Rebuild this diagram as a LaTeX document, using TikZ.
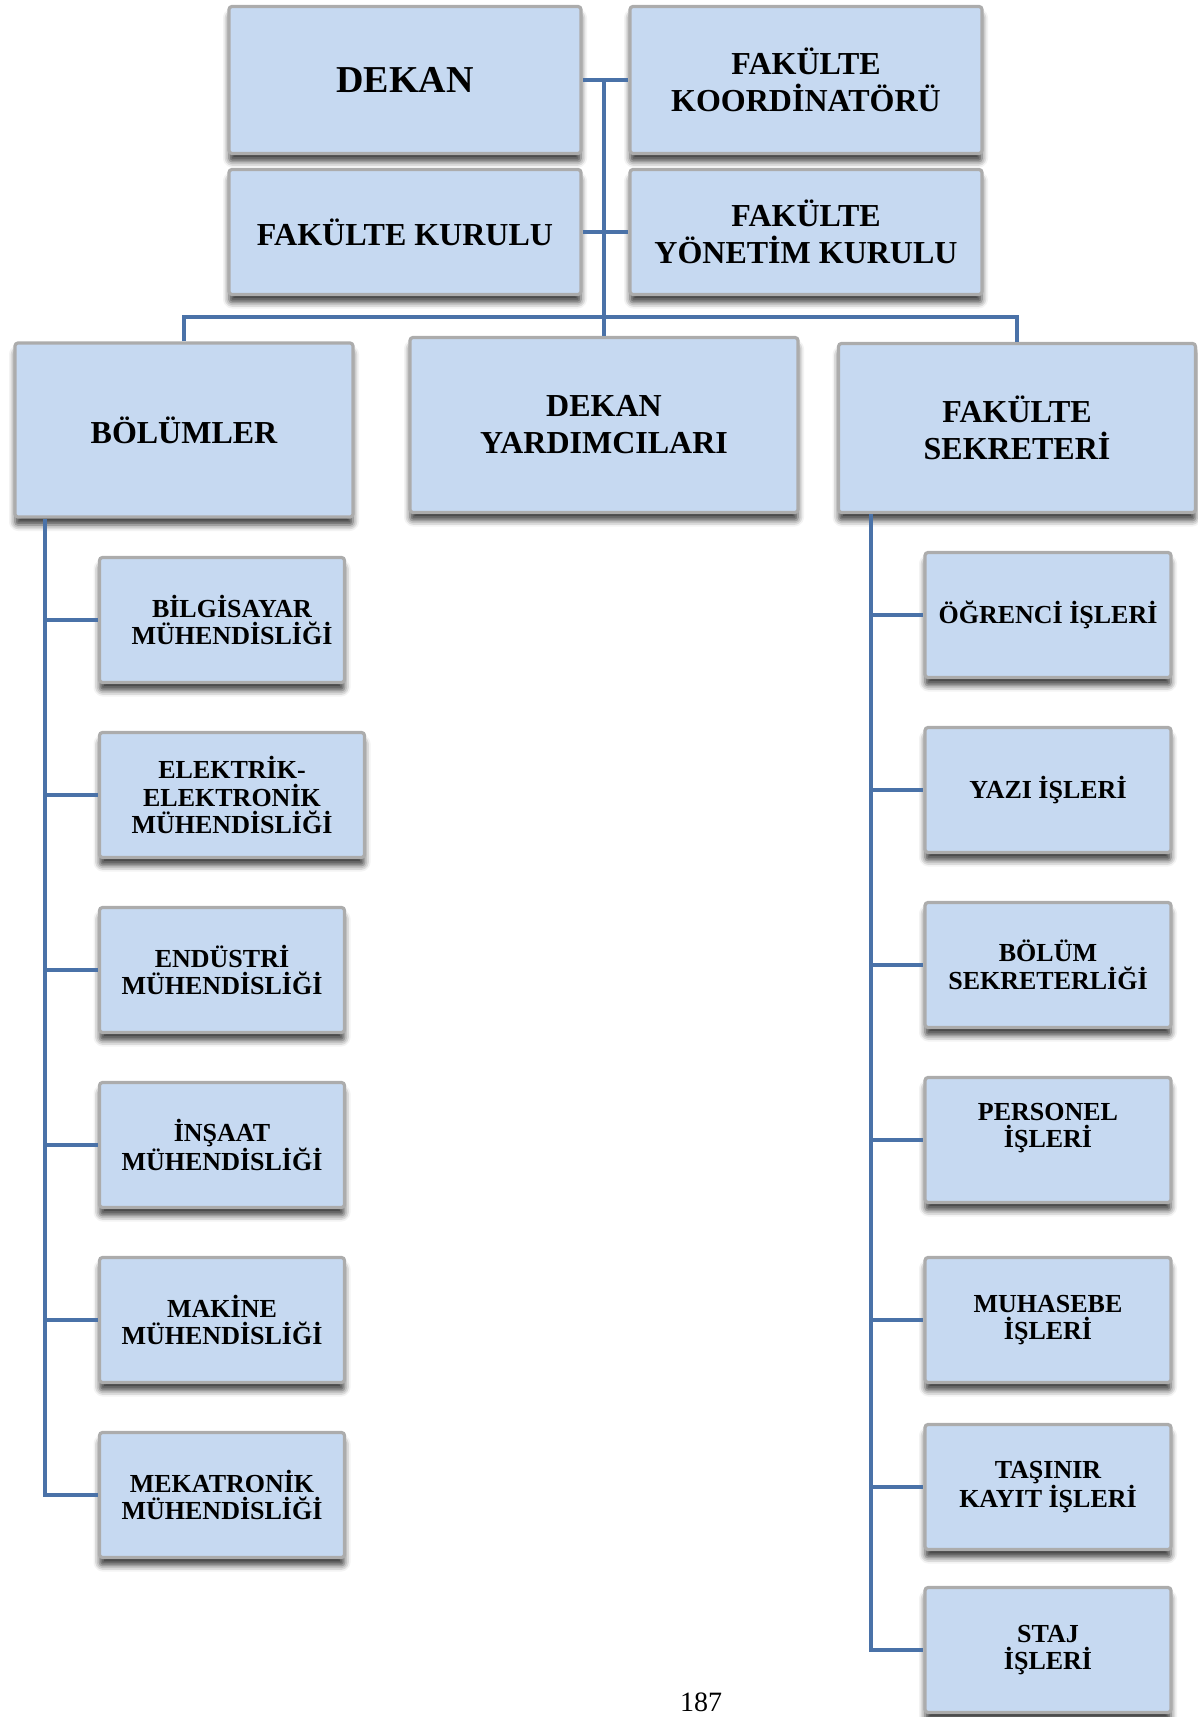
\documentclass[tikz,border=0pt]{standalone}
\usepackage{fontspec}
\setmainfont{Liberation Serif}
\usepackage{xcolor}
\usetikzlibrary{shadows.blur}
\definecolor{boxblue}{HTML}{C6D9F1}
\definecolor{linkblue}{HTML}{4A72A8}
\tikzstyle{orgbox} = [rectangle, draw=gray!65, line width=1.6pt, fill=boxblue, rounded corners=1.5pt, align=center,
  blur shadow={shadow xshift=0pt, shadow yshift=-4pt, shadow blur radius=3pt, shadow opacity=75}]
\tikzstyle{headbox} = [orgbox, font=\fontsize{16}{18.5}\selectfont\bfseries]
\tikzstyle{subbox} = [orgbox, minimum width=122.5pt, minimum height=62.5pt, font=\fontsize{13}{13.8}\selectfont\bfseries]
\tikzstyle{branch} = [draw=linkblue, line width=2pt]

\begin{document}
\begin{tikzpicture}[x=0.5pt,y=-0.5pt,node distance=87.5pt]
  \useasboundingbox (0,0) rectangle (1198,1717);

  % top level
  \node[headbox, minimum width=176pt, minimum height=73.5pt, font=\fontsize{19}{21}\selectfont\bfseries] (dekan) at (405,80) {DEKAN};
  \node[headbox, minimum width=176pt, minimum height=73.5pt] (koord) at (806,80) {FAKÜLTE\\KOORDİNATÖRÜ};
  \node[headbox, minimum width=176pt, minimum height=62.5pt] (kurul) at (405,232) {FAKÜLTE KURULU};
  \node[headbox, minimum width=176pt, minimum height=62.5pt] (yonetim) at (806,232) {FAKÜLTE\\YÖNETİM KURULU};
  \node[headbox, minimum width=169pt, minimum height=87pt] (bolum) at (184,430) {BÖLÜMLER};
  \node[headbox, minimum width=194pt, minimum height=87.5pt] (yard) at (604,425) {DEKAN\\YARDIMCILARI};
  \node[headbox, minimum width=178.5pt, minimum height=84.5pt] (sek) at (1017,428) {FAKÜLTE\\SEKRETERİ};

  % departments
  \node[subbox] (bilgi) at (222,620) {\hspace*{10pt}BİLGİSAYAR\\\hspace*{10pt}MÜHENDİSLİĞİ};
  \node[subbox, minimum width=132.5pt, xshift=5pt] (elek) [below of=bilgi] {ELEKTRİK-\\ELEKTRONİK\\MÜHENDİSLİĞİ};
  \node[subbox, xshift=-5pt] (endus) [below of=elek] {ENDÜSTRİ\\MÜHENDİSLİĞİ};
  \node[subbox] (insaat) [below of=endus] {İNŞAAT\\MÜHENDİSLİĞİ};
  \node[subbox] (makine) [below of=insaat] {MAKİNE\\MÜHENDİSLİĞİ};
  \node[subbox] (mekat) [below of=makine] {MEKATRONİK\\MÜHENDİSLİĞİ};

  % secretary offices
  \node[subbox, minimum width=123pt] (ogrenci) at (1048,615) {ÖĞRENCİ İŞLERİ};
  \node[subbox, minimum width=123pt] (yazi) [below of=ogrenci] {YAZI İŞLERİ};
  \node[subbox, minimum width=123pt] (bsek) [below of=yazi] {BÖLÜM\\SEKRETERLİĞİ};
  \node[subbox, minimum width=123pt] (personel) [below of=bsek] {PERSONEL\\İŞLERİ\\[1pt]};
  \node[subbox, minimum width=123pt, node distance=90pt] (muhasebe) [below of=personel] {MUHASEBE\\İŞLERİ};
  \node[subbox, minimum width=123pt, node distance=83.5pt] (tasinir) [below of=muhasebe] {TAŞINIR\\KAYIT İŞLERİ};
  \node[subbox, minimum width=123pt, node distance=81.5pt] (staj) [below of=tasinir] {STAJ\\İŞLERİ};

  \node[font=\fontsize{14}{16}\selectfont, anchor=base] (sayfa) at (701,1711) {187};

  \coordinate (bar) at (604,317);
  \coordinate (ltop) at ([xshift=16pt]bolum.south west);
  \coordinate (rtop) at ([xshift=17pt]sek.south west);

  \path[branch] (dekan.east) edge (koord.west);
  \path[branch] (kurul.east) edge (yonetim.west);
  \path[branch] (dekan.east -| yard.north) edge (yard.north);
  \draw[branch] (bolum.north) |- (bar) -| (sek.north);

  \draw[branch] (ltop) |- (mekat.west);
  \path[branch] (ltop |- bilgi.west) edge (bilgi.west);
  \path[branch] (ltop |- elek.west) edge (elek.west);
  \path[branch] (ltop |- endus.west) edge (endus.west);
  \path[branch] (ltop |- insaat.west) edge (insaat.west);
  \path[branch] (ltop |- makine.west) edge (makine.west);

  \draw[branch] (rtop) |- (staj.west);
  \path[branch] (rtop |- ogrenci.west) edge (ogrenci.west);
  \path[branch] (rtop |- yazi.west) edge (yazi.west);
  \path[branch] (rtop |- bsek.west) edge (bsek.west);
  \path[branch] (rtop |- personel.west) edge (personel.west);
  \path[branch] (rtop |- muhasebe.west) edge (muhasebe.west);
  \path[branch] (rtop |- tasinir.west) edge (tasinir.west);
\end{tikzpicture}
\end{document}
